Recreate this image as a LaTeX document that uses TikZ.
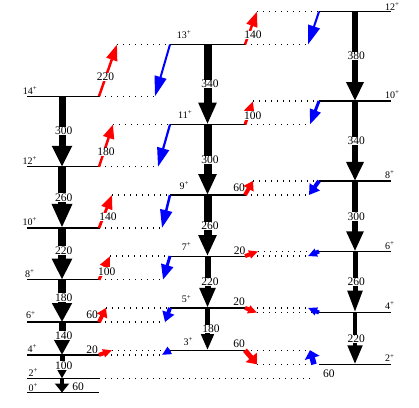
\documentclass[tikz,border=0pt]{standalone}
\usepackage{fontspec}
\setmainfont{Liberation Serif}
\usetikzlibrary{arrows.meta,calc}
\begin{document}
\begin{tikzpicture}[x=1pt,y=-1pt,
  level/.style={line width=1.2pt},
  dots/.style={line width=1.3pt, dash pattern=on 1.3pt off 4.7pt},
  gam/.style n args={3}{color=black, line width=#1pt, arrows={-Triangle[width=#2pt,length=#3pt]}},
  rarr/.style n args={3}{color=red, line width=#1pt, arrows={-Triangle[width=#2pt,length=#3pt]}},
  barr/.style n args={3}{color=blue, line width=#1pt, arrows={-Triangle[width=#2pt,length=#3pt]}},
  en/.style={fill=white, inner sep=0.6pt, font=\fontsize{11.5}{13}\selectfont},
  enr/.style={inner sep=0pt, font=\fontsize{11.5}{13}\selectfont},
  lab/.style={anchor=base west, inner sep=0pt, font=\fontsize{10}{12}\selectfont}]
\useasboundingbox[fill=white] (0,0) rectangle (419,407);
% levels
\foreach \n/\y in {0/392.5,2/378.4,4/354.9,6/322.0,8/279.7,10/227.9,12/166.8,14/96.3}{
  \coordinate (La\n) at (27,\y); \coordinate (Lb\n) at (99,\y); \coordinate (Lg\n) at (62,\y);
  \draw[level] (La\n) -- (Lb\n);}
\foreach \n/\y in {3/350.2,5/307.9,7/256.1,9/195.0,11/124.5,13/44.5}{
  \coordinate (Ma\n) at (170,\y); \coordinate (Mb\n) at (245,\y); \coordinate (Mg\n) at (207.5,\y);
  \draw[level] (Ma\n) -- (Mb\n);}
\foreach \n/\y in {2/364.3,4/312.6,6/251.4,8/180.9,10/101.0,12/11.6}{
  \coordinate (Ra\n) at (319,\y); \coordinate (Rb\n) at (391,\y); \coordinate (Rg\n) at (355,\y);
  \draw[level] (Ra\n) -- (Rb\n);}
% level labels
\node[lab] (l14) at (22.7,94.5) {14\textsuperscript{+}};
\node[lab] (l12) at (22.3,164.3) {12\textsuperscript{+}};
\node[lab] (l10) at (22.3,225) {10\textsuperscript{+}};
\node[lab] (l8) at (25,277.3) {8\textsuperscript{+}};
\node[lab] (l6) at (26,318.8) {6\textsuperscript{+}};
\node[lab] (l4) at (27.3,352.3) {4\textsuperscript{+}};
\node[lab] (l2) at (28.3,376) {2\textsuperscript{+}};
\node[lab] (l0) at (28.3,391) {0\textsuperscript{+}};
\node[lab] (m13) at (176.7,38.5) {13\textsuperscript{+}};
\node[lab] (m11) at (178,118.5) {11\textsuperscript{+}};
\node[lab] (m9) at (179.3,189) {9\textsuperscript{+}};
\node[lab] (m7) at (181.7,250) {7\textsuperscript{+}};
\node[lab] (m5) at (181.7,302.7) {5\textsuperscript{+}};
\node[lab] (m3) at (183.3,345) {3\textsuperscript{+}};
\node[lab] (r12) at (385,10) {12\textsuperscript{+}};
\node[lab] (r10) at (385,98.3) {10\textsuperscript{+}};
\node[lab] (r8) at (385,178.3) {8\textsuperscript{+}};
\node[lab] (r6) at (385,249.3) {6\textsuperscript{+}};
\node[lab] (r4) at (385,309.3) {4\textsuperscript{+}};
\node[lab] (r2) at (385,361.7) {2\textsuperscript{+}};
% extra dotted 2+ line
\coordinate (d2) at (310,378.4);
\draw[dots] (Lb2) -- (d2);
% left -> middle red/blue
\coordinate (ra14) at (117,44.5);  \coordinate (ba14) at (155,96.3);
\coordinate (ra12) at (113,124.5); \coordinate (ba12) at (158,166.8);
\coordinate (ra10) at (112,195.0); \coordinate (ba10) at (162,227.9);
\coordinate (ra8) at (110,256.1);  \coordinate (ba8) at (163,279.7);
\coordinate (ra6) at (106,307.9);  \coordinate (ba6) at (165,322.0);
\coordinate (ra4) at (112,350.2);  \coordinate (ba4) at (162,354.9);
\draw[dots] (Lb14) -- (ba14); \draw[dots] (ra14) -- (Ma13);
\draw[dots] (Lb12) -- (ba12); \draw[dots] (ra12) -- (Ma11);
\draw[dots] (Lb10) -- (ba10); \draw[dots] (ra10) -- (Ma9);
\draw[dots] (Lb8) -- (ba8);   \draw[dots] (ra8) -- (Ma7);
\draw[dots] (Lb6) -- (ba6);   \draw[dots] (ra6) -- (Ma5);
\draw[dots] (Lb4) -- (ba4);   \draw[dots] (ra4) -- (Ma3);
\draw[rarr={2.5}{11}{16}] (Lb14) -- (ra14);
\draw[rarr={2.5}{11}{14}] (Lb12) -- (ra12);
\draw[rarr={2.8}{11}{14}] (Lb10) -- (ra10);
\draw[rarr={3}{10}{12}] (Lb8) -- (ra8);
\draw[rarr={4}{11}{9}] (Lb6) -- (ra6);
\draw[rarr={4}{8}{9}] (Lb4) -- (ra4);
\draw[barr={2}{12}{20}] (Ma13) -- (ba14);
\draw[barr={2.2}{12}{19}] (Ma11) -- (ba12);
\draw[barr={2.5}{12}{18}] (Ma9) -- (ba10);
\draw[barr={3}{12}{15}] (Ma7) -- (ba8);
\draw[barr={4}{12}{10}] (Ma5) -- (ba6);
\draw[barr={4}{8}{9}] (Ma3) -- (ba4);
% middle -> right red/blue
\coordinate (rb13) at (257,11.6);  \coordinate (bb13) at (308,44.5);
\coordinate (rb11) at (253,101.0); \coordinate (bb11) at (310,124.5);
\coordinate (rb9) at (253,180.9);  \coordinate (bb9) at (309,195.0);
\coordinate (rb7) at (258,251.4);  \coordinate (bb7) at (308,256.1);
\coordinate (rb5) at (257,312.6);  \coordinate (bb5) at (308,307.9);
\coordinate (rb3) at (257,364.3);  \coordinate (bb3) at (310,350.2);
\coordinate (bt3) at (314,364.3);
\draw[dots] (Mb13) -- (bb13); \draw[dots] (rb13) -- (Ra12);
\draw[dots] (Mb11) -- (bb11); \draw[dots] (rb11) -- (Ra10);
\draw[dots] (Mb9) -- (bb9);   \draw[dots] (rb9) -- (Ra8);
\draw[dots] (Mb7) -- (bb7);   \draw[dots] (rb7) -- (Ra6);
\draw[dots] (Mb5) -- (bb5);   \draw[dots] (rb5) -- (Ra4);
\draw[dots] (Mb3) -- (bb3);   \draw[dots] (rb3) -- (bt3);
\draw[rarr={2.5}{11}{15}] (Mb13) -- (rb13);
\draw[rarr={3}{10}{12}] (Mb11) -- (rb11);
\draw[rarr={4}{11}{9}] (Mb9) -- (rb9);
\draw[rarr={4}{8}{9}] (Mb7) -- (rb7);
\draw[rarr={4}{8}{9}] (Mb5) -- (rb5);
\draw[rarr={5}{14}{9}] (Mb3) -- (rb3);
\draw[barr={2}{12}{19}] (Ra12) -- (bb13);
\draw[barr={3}{11}{15}] (Ra10) -- (bb11);
\draw[barr={4}{12}{10}] (Ra8) -- (bb9);
\draw[barr={4}{8}{9}] (Ra6) -- (bb7);
\draw[barr={4}{8}{9}] (Ra4) -- (bb5);
\draw[barr={5.5}{15}{8}] (bt3) -- (bb3);
% black gamma arrows
\draw[gam={7}{19}{21}] (Lg14) -- (Lg12);
\draw[gam={8.5}{19}{24}] (Lg12) -- (Lg10);
\draw[gam={8.5}{19}{21}] (Lg10) -- (Lg8);
\draw[gam={8.5}{19}{19}] (Lg8) -- (Lg6);
\draw[gam={7}{15}{15}] (Lg6) -- (Lg4);
\draw[gam={5}{11.5}{11}] (Lg4) -- (Lg2);
\draw[gam={3.5}{14}{9}] (Lg2) -- (Lg0);
\draw[gam={8}{17}{22}] (Mg13) -- (Mg11);
\draw[gam={8}{17}{21}] (Mg11) -- (Mg9);
\draw[gam={8}{17}{21}] (Mg9) -- (Mg7);
\draw[gam={6}{15}{20}] (Mg7) -- (Mg5);
\draw[gam={5}{12}{16}] (Mg5) -- (Mg3);
\draw[gam={6.5}{16.5}{19}] (Rg12) -- (Rg10);
\draw[gam={6.5}{16.5}{19}] (Rg10) -- (Rg8);
\draw[gam={6}{16}{20}] (Rg8) -- (Rg6);
\draw[gam={5}{14}{22}] (Rg6) -- (Rg4);
\draw[gam={4.5}{14}{19}] (Rg4) -- (Rg2);
% energy labels
\node[en] (e1) at (63.8,131) {300};
\node[en] (e2) at (63.8,197.5) {260};
\node[en] (e3) at (63.8,250.5) {220};
\node[en] (e4) at (63.8,297.5) {180};
\node[en] (e5) at (63.8,335.5) {140};
\node[en] (e6) at (63.8,365.5) {100};
\node[enr] (e7) at (78,386.7) {60};
\node[en] (e8) at (210,84) {340};
\node[en] (e9) at (210,160) {300};
\node[en] (e10) at (210,226) {260};
\node[en] (e11) at (210,282) {220};
\node[en] (e12) at (211,329) {180};
\node[en] (e13) at (356.3,56) {380};
\node[en] (e14) at (356.3,141) {340};
\node[en] (e15) at (356.3,216.7) {300};
\node[en] (e16) at (356.3,282) {260};
\node[en] (e17) at (356.3,339) {220};
\node[en] (e18) at (105.5,77) {220};
\node[en] (e19) at (106,152) {180};
\node[en] (e20) at (108,217) {140};
\node[en] (e21) at (106.7,271.7) {100};
\node[enr] (e22) at (92,315) {60};
\node[enr] (e23) at (92,350) {20};
\node[en] (e24) at (253,35) {140};
\node[en] (e25) at (252.7,115.5) {100};
\node[enr] (e26) at (239,188) {60};
\node[enr] (e27) at (239.5,250.5) {20};
\node[enr] (e28) at (239,302) {20};
\node[enr] (e29) at (239,344) {60};
\node[enr] (e30) at (328.8,373.3) {60};
\end{tikzpicture}
\end{document}
